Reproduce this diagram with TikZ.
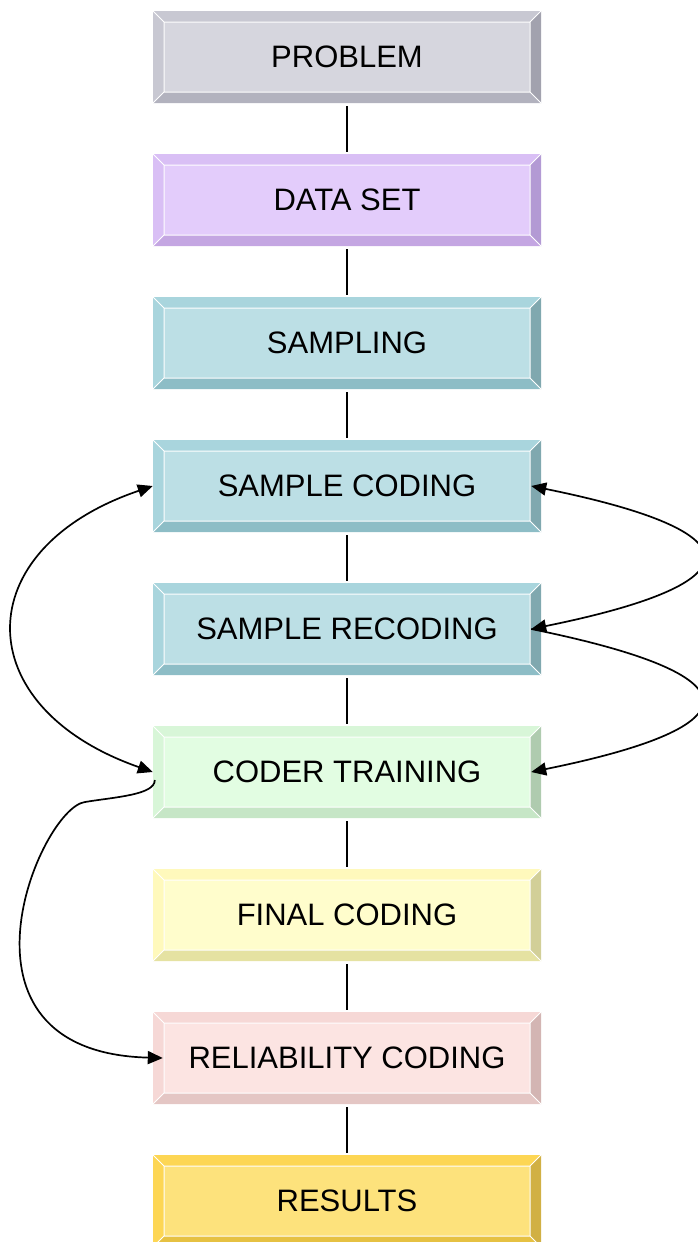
\documentclass[tikz,border=0pt]{standalone}
\usepackage{fontspec}
\setmainfont{Liberation Sans}
\usetikzlibrary{arrows.meta}
\definecolor{pFace}{HTML}{D6D6DE}\definecolor{pTop}{HTML}{C8C8D2}\definecolor{pBot}{HTML}{B2B2BE}\definecolor{pRight}{HTML}{A2A2AE}
\definecolor{dFace}{HTML}{E3CCFB}\definecolor{dTop}{HTML}{D9BFF5}\definecolor{dBot}{HTML}{C4A6E2}\definecolor{dRight}{HTML}{B39AD4}
\definecolor{tFace}{HTML}{BCDFE5}\definecolor{tTop}{HTML}{A9D5DD}\definecolor{tBot}{HTML}{8DBDC6}\definecolor{tRight}{HTML}{80A8AF}
\definecolor{gFace}{HTML}{E2FDE2}\definecolor{gTop}{HTML}{D8F6D8}\definecolor{gBot}{HTML}{C6E6C6}\definecolor{gRight}{HTML}{AFCBAF}
\definecolor{yFace}{HTML}{FFFDCC}\definecolor{yTop}{HTML}{FFF9BC}\definecolor{yBot}{HTML}{E5E2A2}\definecolor{yRight}{HTML}{D2CF98}
\definecolor{rFace}{HTML}{FCE4E2}\definecolor{rTop}{HTML}{F6D8D6}\definecolor{rBot}{HTML}{E4C6C4}\definecolor{rRight}{HTML}{D3B5B3}
\definecolor{oFace}{HTML}{FDE27C}\definecolor{oTop}{HTML}{FDD654}\definecolor{oBot}{HTML}{E6C142}\definecolor{oRight}{HTML}{D1B044}
\tikzset{
  bevbox/.style args={#1/#2/#3/#4}{draw=none, fill=#1, minimum width=388pt, minimum height=92pt, inner sep=0pt,
    font=\fontsize{31}{36}\selectfont,
    path picture={
      \path (path picture bounding box.north west) coordinate (pnw)
            (path picture bounding box.north east) coordinate (pne)
            (path picture bounding box.south west) coordinate (psw)
            (path picture bounding box.south east) coordinate (pse);
      \path ([shift={(11pt,-11pt)}]pnw) coordinate (inw)
            ([shift={(-11pt,-11pt)}]pne) coordinate (ine)
            ([shift={(11pt,11pt)}]psw) coordinate (isw)
            ([shift={(-11pt,11pt)}]pse) coordinate (ise);
      \fill[#2] (pnw)--(pne)--(ine)--(inw)--cycle;
      \fill[#2] (pnw)--(inw)--(isw)--(psw)--cycle;
      \fill[#3] (psw)--(isw)--(ise)--(pse)--cycle;
      \fill[#4] (pne)--(pse)--(ise)--(ine)--cycle;
      \draw[white, line width=1pt] (inw) rectangle (ise) (pnw)--(inw) (pne)--(ine) (psw)--(isw) (pse)--(ise);
    }},
  conn/.style={line width=1.8pt, shorten <=3pt, shorten >=2pt},
  arr/.style={line width=1.7pt, arrows={-Triangle[length=15pt,width=13pt]}},
  arrb/.style={line width=1.7pt, arrows={Triangle[length=15pt,width=13pt]-Triangle[length=15pt,width=13pt]}}
}
\begin{document}
\begin{tikzpicture}[x=1pt,y=-1pt]
\useasboundingbox (0,0) rectangle (697,1242);
\node[bevbox=pFace/pTop/pBot/pRight] (pr) at (347,57) {PROBLEM};
\node[bevbox=dFace/dTop/dBot/dRight] (ds) at (347,200) {DATA SET};
\node[bevbox=tFace/tTop/tBot/tRight] (sa) at (347,343) {SAMPLING};
\node[bevbox=tFace/tTop/tBot/tRight] (sc) at (347,486) {SAMPLE CODING};
\node[bevbox=tFace/tTop/tBot/tRight] (sr) at (347,629) {SAMPLE RECODING};
\node[bevbox=gFace/gTop/gBot/gRight] (ct) at (347,772) {CODER TRAINING};
\node[bevbox=yFace/yTop/yBot/yRight] (fc) at (347,915) {FINAL CODING};
\node[bevbox=rFace/rTop/rBot/rRight] (rc) at (347,1058) {RELIABILITY CODING};
\node[bevbox=oFace/oTop/oBot/oRight] (rs) at (347,1201) {RESULTS};
\draw[conn] (pr.south) -- (ds.north);
\draw[conn] (ds.south) -- (sa.north);
\draw[conn] (sa.south) -- (sc.north);
\draw[conn] (sc.south) -- (sr.north);
\draw[conn] (sr.south) -- (ct.north);
\draw[conn] (ct.south) -- (fc.north);
\draw[conn] (fc.south) -- (rc.north);
\draw[conn] (rc.south) -- (rs.north);
\draw[arrb] (sc.west) .. controls (-33,549) and (-33,707) .. (ct.west);
\draw[arrb] ([xshift=-10pt]sc.east) .. controls (758,532) and (758,583) .. ([xshift=-10pt]sr.east);
\draw[arr] ([xshift=-10pt]sr.east) .. controls (758,675) and (758,726) .. ([xshift=-10pt]ct.east);
\coordinate (bend) at (85,802);
\draw[arr] ([shift={(2pt,-8pt)}]ct.west) .. controls (155,795) and (115,797) .. (bend) .. controls (40,808) and (-64,1052) .. ([xshift=10pt]rc.west);
\end{tikzpicture}
\end{document}
